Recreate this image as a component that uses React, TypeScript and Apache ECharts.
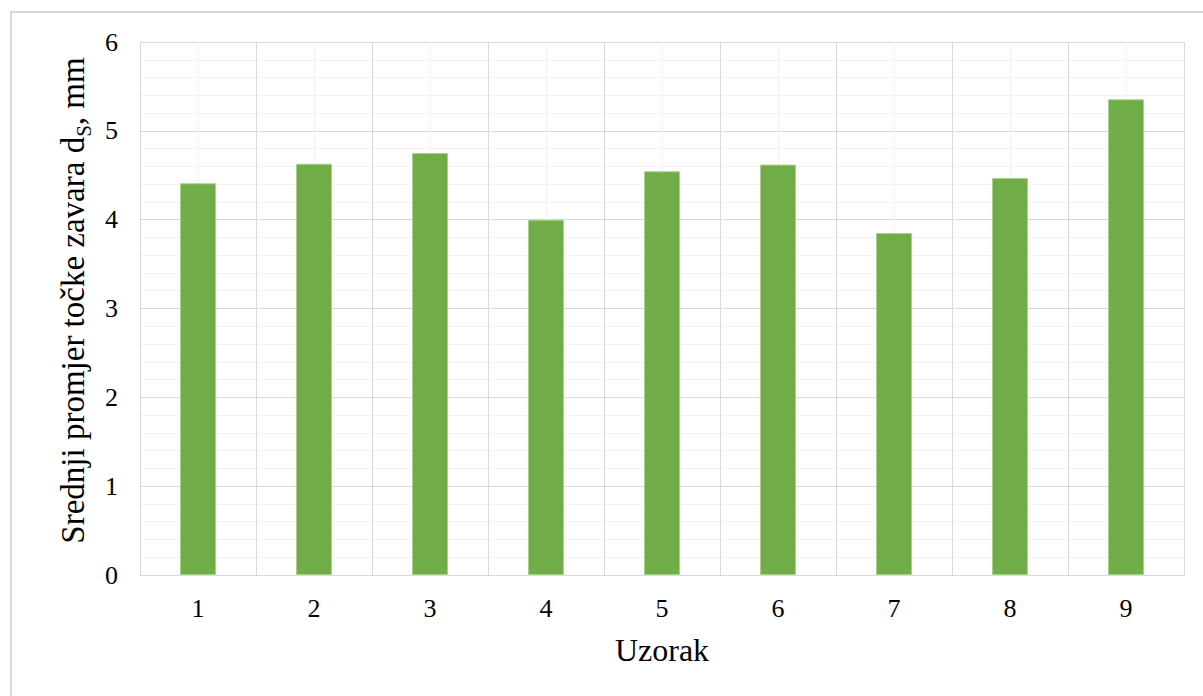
import React, { useEffect, useRef } from "react";
import * as echarts from "echarts";

const categories = ["1", "2", "3", "4", "5", "6", "7", "8", "9"];
const values = [4.41, 4.63, 4.75, 4.0, 4.545, 4.62, 3.85, 4.47, 5.355];
const yTicks = { min: 0, max: 6, interval: 1 };

const FONT = "Liberation Serif";

export default function App() {
  const ref = useRef<HTMLDivElement>(null);
  useEffect(() => {
    if (!ref.current) return;
    const chart = echarts.init(ref.current, null, { renderer: "svg" });
    chart.setOption({
      animation: false,
      backgroundColor: "#ffffff",
      textStyle: { fontFamily: FONT },
      grid: { left: 140, top: 42, right: 19, bottom: 121, containLabel: false },
      graphic: [
        { type: "line", shape: { x1: 11, y1: 12, x2: 11, y2: 696 }, style: { stroke: "#d9d9d9", lineWidth: 2 } },
        { type: "line", shape: { x1: 10, y1: 12, x2: 1203, y2: 12 }, style: { stroke: "#d9d9d9", lineWidth: 2 } },
      ],
      xAxis: [
        {
          type: "category",
          data: categories,
          boundaryGap: true,
          axisLine: { show: true, lineStyle: { color: "#d9d9d9", width: 1 } },
          axisTick: { show: false },
          splitLine: { show: false },
          axisLabel: { color: "#000", fontFamily: FONT, fontSize: 26, margin: 20 },
          name: "Uzorak",
          nameLocation: "middle",
          nameGap: 59,
          nameTextStyle: { color: "#000", fontFamily: FONT, fontSize: 32 },
        },
        {
          type: "value",
          min: 0,
          max: 9,
          interval: 1,
          position: "bottom",
          axisLine: { show: false },
          axisTick: { show: false },
          axisLabel: { show: false },
          splitLine: { show: true, lineStyle: { color: "#d9d9d9", width: 1 } },
          minorTick: { show: false, splitNumber: 2 },
          minorSplitLine: { show: true, lineStyle: { color: "#f2f2f2", width: 1 } },
        },
      ],
      yAxis: {
        type: "value",
        min: yTicks.min,
        max: yTicks.max,
        interval: yTicks.interval,
        axisLine: { show: false },
        axisTick: { show: false },
        axisLabel: { color: "#000", fontFamily: FONT, fontSize: 26, margin: 22 },
        splitLine: { show: true, lineStyle: { color: "#d9d9d9", width: 1 } },
        minorTick: { show: false, splitNumber: 5 },
        minorSplitLine: { show: true, lineStyle: { color: "#f2f2f2", width: 1 } },
        name: "{a|Srednji promjer točke zavara d}{s|S}{a|, mm}",
        nameLocation: "middle",
        nameGap: 50,
        nameRotate: 90,
        nameTextStyle: {
          color: "#000",
          fontFamily: FONT,
          fontSize: 33,
          padding: [0, 0, 0, 16],
          rich: {
            a: { color: "#000", fontFamily: FONT, fontSize: 33, lineHeight: 33, verticalAlign: "top" },
            s: { color: "#000", fontFamily: FONT, fontSize: 21, lineHeight: 21, padding: [17, 0, 0, 0], verticalAlign: "top" },
          },
        },
      },
      series: [
        {
          type: "bar",
          data: values,
          xAxisIndex: 0,
          barWidth: "31%",
          itemStyle: { color: "#70ad47", borderColor: "#a9d18e", borderWidth: 1 },
        },
      ],
    });
    return () => chart.dispose();
  }, []);
  return (
    <div
      ref={ref}
      style={{ position: "absolute", left: 0, top: 0, width: 1203, height: 696, background: "#fff" }}
    />
  );
}
